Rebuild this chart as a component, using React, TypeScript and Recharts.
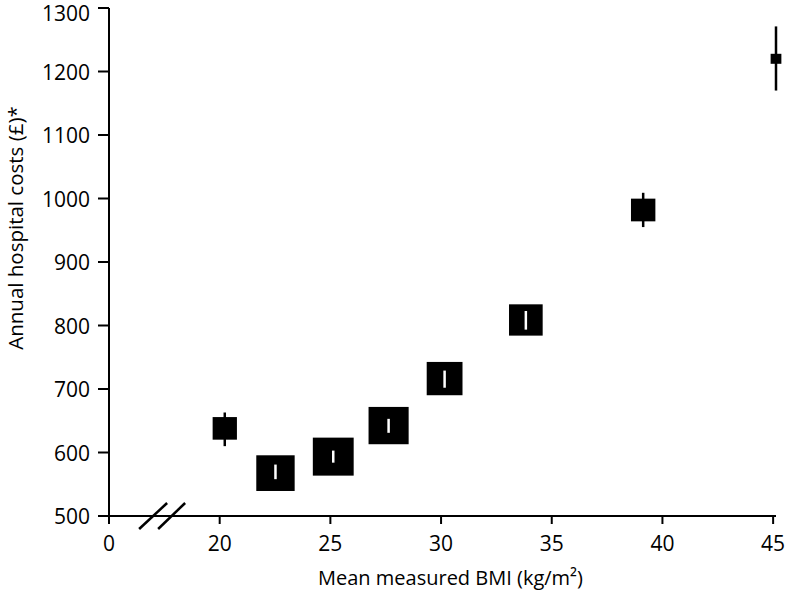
import React from 'react';
import { ScatterChart, Scatter, XAxis, YAxis, ErrorBar, ReferenceDot } from 'recharts';

// BMI group means; the x axis is broken, so its first tick (drawn as "0") sits at 15
const bmi = [20.23, 22.52, 25.13, 27.63, 30.16, 33.83, 39.13, 45.13];
const cost = [638, 567.5, 593.5, 642.4, 716.4, 808.7, 981.9, 1220];
const ciLow = [610, 558, 584, 631, 702, 793.5, 955, 1170];
const ciHigh = [663, 581, 603, 653, 729, 822.8, 1009, 1271];
// relative weight of each group (drives the square size)
const weight = [22.6, 35.7, 38, 37.3, 33.3, 31.3, 22.7, 10];

const xTicks = [15, 20, 25, 30, 35, 40, 45];
const yTicks = [500, 600, 700, 800, 900, 1000, 1100, 1200, 1300];
const BREAK_AT = 17.4;

const rows = bmi.map((b, i) => ({
  bmi: b,
  cost: cost[i],
  err: [cost[i] - ciLow[i], ciHigh[i] - cost[i]],
  weight: weight[i],
}));
// squares big enough to contain their CI show it as a white line
const innerRows = rows.filter((r) => r.weight >= 30);

const FONT = '"Open Sans", sans-serif';

const Square = (props: any) => {
  const { cx, cy, payload } = props;
  const h = payload.weight;
  const w = h * 1.075;
  return <rect x={cx - w / 2} y={cy - h / 2} width={w} height={h} fill="#000" />;
};

const Nothing = () => <g />;

const BreakMark = (props: any) => {
  const { cx, cy } = props;
  return (
    <g stroke="#000" strokeWidth={2.5}>
      <line x1={cx - 23} y1={cy + 13} x2={cx + 5} y2={cy - 13} />
      <line x1={cx - 4} y1={cy + 13} x2={cx + 23} y2={cy - 13} />
    </g>
  );
};

const YLabel = (props: any) => {
  const { viewBox } = props;
  const x = 23;
  const y = viewBox.y + viewBox.height / 2 - 34;
  return (
    <text x={x} y={y} transform={`rotate(-90, ${x}, ${y})`} textAnchor="middle" fontFamily={FONT} fontSize={20.5} fill="#000">
      Annual hospital costs (£)*
    </text>
  );
};

export default function App() {
  const axisStroke = { stroke: '#000', strokeWidth: 2 };
  return (
    <div style={{ position: 'absolute', left: 0, top: 0, width: 788, height: 595, background: '#fff' }}>
      <ScatterChart width={788} height={595} margin={{ top: 8, right: 12, bottom: 0, left: 0 }}>
        <XAxis
          type="number"
          dataKey="bmi"
          domain={[15, 45]}
          ticks={xTicks}
          tickFormatter={(v) => (v === 15 ? '0' : String(v))}
          height={79}
          tickSize={8}
          tickMargin={12}
          axisLine={axisStroke}
          tickLine={axisStroke}
          tick={{ fontFamily: FONT, fontSize: 21, fill: '#000' }}
          label={{ value: 'Mean measured BMI (kg/m²)', position: 'insideBottom', offset: 10, dx: 8, fontFamily: FONT, fontSize: 20, fill: '#000' }}
        />
        <YAxis
          type="number"
          dataKey="cost"
          domain={[500, 1300]}
          ticks={yTicks}
          width={109}
          tickSize={11}
          tickMargin={8}
          axisLine={axisStroke}
          tickLine={axisStroke}
          tick={{ fontFamily: FONT, fontSize: 21, fill: '#000', dy: 1 }}
          label={<YLabel />}
        />
        <Scatter data={rows} shape={<Square />} isAnimationActive={false}>
          <ErrorBar dataKey="err" direction="y" width={0} stroke="#000" strokeWidth={2.5} />
        </Scatter>
        <Scatter data={innerRows} shape={<Nothing />} isAnimationActive={false} zIndex={700}>
          <ErrorBar dataKey="err" direction="y" width={0} stroke="#fff" strokeWidth={2.5} zIndex={700} />
        </Scatter>
        <ReferenceDot x={BREAK_AT} y={500} ifOverflow="visible" shape={<BreakMark />} />
      </ScatterChart>
    </div>
  );
}
